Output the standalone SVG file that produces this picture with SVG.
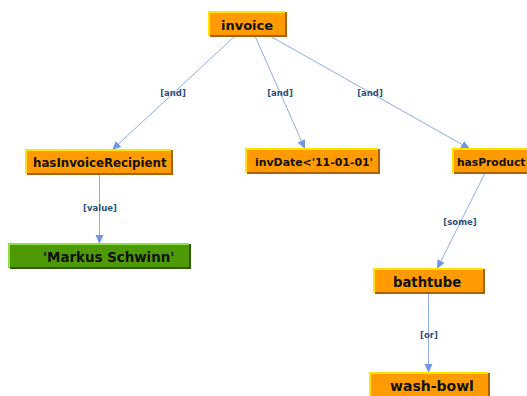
<svg xmlns="http://www.w3.org/2000/svg" width="527" height="396" viewBox="0 0 527 396">
<style>
.edge{stroke:#8eaaea;stroke-width:1;fill:none;marker-end:url(#arr)}
.elab{font-family:"DejaVu Sans",sans-serif;font-weight:bold;font-size:8.5px;fill:#2f4f78;text-anchor:middle}
.of{fill:#ff9b00}
.ol{stroke:#ffe400;stroke-width:2;fill:none}
.od{stroke:#a8620a;stroke-width:2;fill:none}
.gf{fill:#4e9a06}
.gl{stroke:#8ee04a;stroke-width:2;fill:none}
.gd{stroke:#2e5a05;stroke-width:2;fill:none}
.nt{font-family:"DejaVu Sans",sans-serif;font-weight:bold;fill:#111}
</style>
<defs>
<marker id="arr" markerWidth="10" markerHeight="10" refX="9" refY="4" orient="auto" markerUnits="userSpaceOnUse">
<path d="M0,0 L9,4 L0,8 Z" fill="#6e98e6"/>
</marker>
</defs>
<rect width="527" height="396" fill="#fff"/>
<g id="connectors">
<line class="edge" x1="235" y1="36" x2="112" y2="150"/>
<text class="elab" x="173" y="96">[and]</text>
<line class="edge" x1="255" y1="36" x2="305" y2="149"/>
<text class="elab" x="280" y="96">[and]</text>
<line class="edge" x1="270" y1="36" x2="470" y2="149"/>
<text class="elab" x="370" y="96">[and]</text>
<line class="edge" x1="99.5" y1="174" x2="99.5" y2="244"/>
<text class="elab" x="100" y="211">[value]</text>
<line class="edge" x1="485" y1="173" x2="437" y2="269"/>
<text class="elab" x="460" y="225">[some]</text>
<line class="edge" x1="428.5" y1="293" x2="428.5" y2="373"/>
<text class="elab" x="429" y="338">[or]</text>
</g>
<g id="invoice">
<rect class="of" x="209" y="12" width="77" height="24"/>
<polyline class="od" points="210,36 286,36 286,12"/>
<polyline class="ol" points="209,36 209,12 285,12"/>
<text class="nt" x="221" y="30" font-size="13">invoice</text>
</g>
<g id="hasInvoiceRecipient">
<rect class="of" x="26" y="150" width="146" height="24"/>
<polyline class="od" points="27,174 172,174 172,150"/>
<polyline class="ol" points="26,174 26,150 171,150"/>
<text class="nt" x="33" y="167" font-size="11.8">hasInvoiceRecipient</text>
</g>
<g id="invDate">
<rect class="of" x="246" y="149" width="133" height="24"/>
<polyline class="od" points="247,173 379,173 379,149"/>
<polyline class="ol" points="246,173 246,149 378,149"/>
<text class="nt" x="255" y="166" font-size="10.9">invDate&lt;'11-01-01'</text>
</g>
<g id="hasProduct">
<rect class="of" x="453" y="149" width="90" height="24"/>
<polyline class="od" points="454,173 543,173"/>
<polyline class="ol" points="453,173 453,149 543,149"/>
<text class="nt" x="457" y="166" font-size="10.7">hasProduct</text>
</g>
<g id="markus">
<rect class="gf" x="9" y="244" width="181" height="24"/>
<polyline class="gd" points="10,268 190,268 190,244"/>
<polyline class="gl" points="9,268 9,244 189,244"/>
<text class="nt" x="43" y="262" font-size="13.4">'Markus Schwinn'</text>
</g>
<g id="bathtube">
<rect class="of" x="374" y="269" width="110" height="24"/>
<polyline class="od" points="375,293 484,293 484,269"/>
<polyline class="ol" points="374,293 374,269 483,269"/>
<text class="nt" x="393" y="287" font-size="13.2">bathtube</text>
</g>
<g id="wash-bowl">
<rect class="of" x="370" y="373" width="119" height="24"/>
<polyline class="od" points="489,397 489,373"/>
<polyline class="ol" points="370,397 370,373 488,373"/>
<text class="nt" x="390" y="391" font-size="14">wash-bowl</text>
</g>
</svg>
